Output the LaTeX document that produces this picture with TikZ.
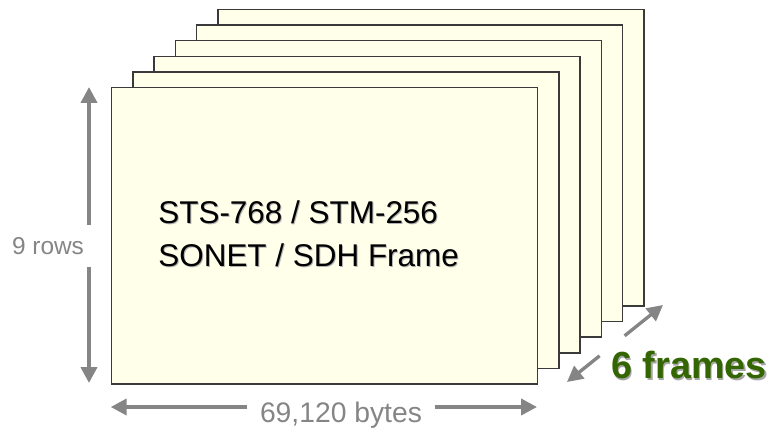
\documentclass[tikz,border=0pt]{standalone}
\usepackage{fontspec}
\setmainfont{Liberation Sans}
\usetikzlibrary{arrows.meta,calc,positioning}
\definecolor{paper}{HTML}{FFFFEA}
\definecolor{frameline}{HTML}{3A3A3A}
\definecolor{dimgray}{HTML}{858585}
\definecolor{leaf}{HTML}{336600}
\newcommand{\framew}{8.52cm}
\newcommand{\frameh}{5.93cm}

\begin{document}
\begin{tikzpicture}[x=0.02cm,y=-0.02cm,
  frame/.style={draw=frameline,fill=paper,line width=0.9pt,anchor=north west,
    minimum width=\framew,minimum height=\frameh,inner sep=0pt},
  dimarrow/.style={draw=dimgray,line width=2.2pt,-{Triangle[length=9pt,width=9pt]}},
  dimlabel/.style={text=dimgray,inner sep=0pt},
  titletext/.style={anchor=base west,align=left,inner sep=0pt,
    font=\fontsize{17.9pt}{21.6pt}\selectfont}]
  \useasboundingbox (0,0) rectangle (770,433);

  % stack of frames, back to front
  \foreach \i in {5,...,0}
    \node[frame] (frame\i) at ({110.7+21.3*\i},{86.7-15.6*\i}) {};

  \node[titletext,text=black!30] (titleshadow) at (159,267)
    {STS-768 / STM-256\\[2.5pt]SONET / SDH Frame};
  \node[titletext] (title) at (158,266)
    {STS-768 / STM-256\\[2.5pt]SONET / SDH Frame};

  % rows
  \coordinate (rtop) at (89,87);
  \coordinate (rbot) at (89,383);
  \node[dimlabel,minimum height=0.84cm,font=\fontsize{13.9pt}{16pt}\selectfont] (rows) at (48,246) {9 rows};
  \draw[dimarrow] (rtop |- rows.north) -- (rtop);
  \draw[dimarrow] (rbot |- rows.south) -- (rbot);

  % bytes
  \coordinate (bleft) at (110.7,407);
  \coordinate (bright) at (537,407);
  \node[dimlabel,inner xsep=7pt,font=\fontsize{16.1pt}{18pt}\selectfont] (bytes) at (341,415) {69,120 bytes};
  \draw[dimarrow] (bytes.west |- bleft) -- (bleft);
  \draw[dimarrow] (bytes.east |- bright) -- (bright);

  % depth
  \coordinate (dfront) at (567,382);
  \coordinate (dback) at (663,305);
  \draw[dimarrow,line width=1.9pt] ($(dfront)!0.34!(dback)$) -- (dfront);
  \draw[dimarrow,line width=1.9pt] ($(dfront)!0.6!(dback)$) -- (dback);
  \node[text=black!35,font=\bfseries\fontsize{21.5pt}{24pt}\selectfont,inner sep=0pt]
    (framesshadow) at (690.5,367) {6 frames};
  \node[text=leaf,font=\bfseries\fontsize{21.5pt}{24pt}\selectfont,inner sep=0pt]
    (frames) at (689,365) {6 frames};
\end{tikzpicture}
\end{document}
